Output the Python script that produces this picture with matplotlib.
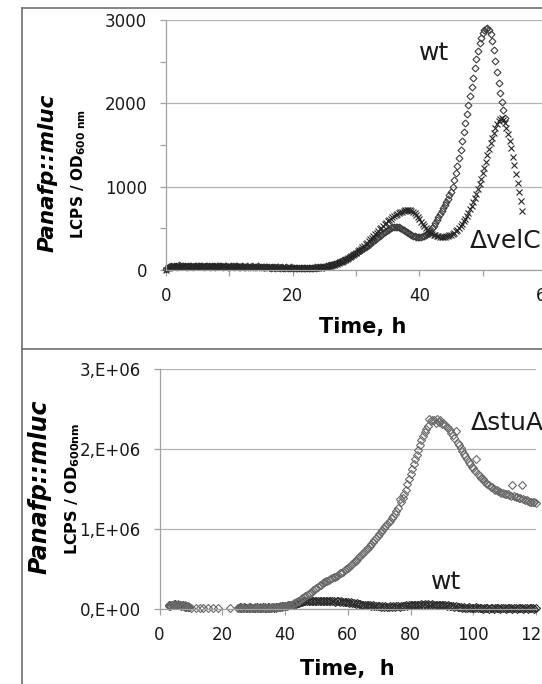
import numpy as np
import matplotlib
matplotlib.use("Agg")
import matplotlib.pyplot as plt
from matplotlib.lines import Line2D
from matplotlib.ticker import MultipleLocator, FuncFormatter

plt.rcParams['font.family'] = ['DejaVu Sans']
plt.rcParams['mathtext.fontset'] = 'dejavusans'

W, H = 542, 684
N = None

# === top panel: Panafp::mluc, wt vs ΔvelC (sampled every 0.25 h from 0 h) ===
TOP_T0, TOP_STEP = 0.0, 0.25
wt_top = [
    10, 28, 40, 45, 38, 50, 46, 42, 55, 48, 44, 52, 47, 40, 49, 53, 45, 41, 50, 46,          # 0-5 h
    43, 48, 52, 44, 39, 47, 50, 45, 42, 49, 46, 40, 44, 51, 47, 43, 38, 45, 48, 42,          # 5-10
    40, 46, 43, 37, 44, 48, 41, 39, 45, 42, 36, 43, 40, 38, 44, 41, 35, 40, 43, 37,          # 10-15
    34, 39, 36, 32, 38, 35, 30, 36, 33, 29, 35, 31, 28, 33, 30, 27, 32, 29, 26, 31,          # 15-20
    28, 25, 30, 27, 24, 29, 26, 23, 28, 25, 27, 30, 26, 29, 32, 30, 35, 33, 38, 36,          # 20-25
    42, 45, 50, 55, 62, 66, 72, 78, 86, 92, 100, 108, 118, 126, 135, 145, 155, 165, 176, 188,  # 25-30
    200, 212, 225, 238, 252, 265, 278, 292, 306, 320, 335, 350, 365, 380, 395, 410, 425, 440, 455, 470,  # 30-35
    484, 496, 506, 514, 520, 522, 520, 515, 506, 495, 482, 468, 455, 442, 430, 420, 412, 406, 402, 400,  # 35-40
    400, 402, 406, 412, 420, 432, 448, 468, 500, 530, 562, 596, 632, 668, 706, 746, 780, 815, 850, 895,  # 40-45
    940, 1000, 1080, 1160, 1250, 1345, 1445, 1550, 1655, 1760, 1870, 1980, 2090, 2200, 2310, 2420,
    2530, 2630, 2720, 2790,                                                                 # 45-50
    2840, 2875, 2895, 2900, 2880, 2830, 2750, 2640, 2510, 2380, 2250, 2130, 2020, 1920, 1820,  # 50-53.5
]
velc_top = [
    5, 22, 35, 42, 50, 44, 39, 47, 53, 41, 46, 50, 43, 38, 48, 44, 51, 46, 40, 45,           # 0-5 h
    49, 42, 46, 51, 44, 40, 47, 43, 50, 45, 41, 48, 44, 39, 46, 42, 49, 45, 40, 44,          # 5-10
    42, 38, 45, 41, 36, 43, 39, 46, 40, 37, 42, 38, 35, 41, 37, 34, 40, 36, 33, 38,          # 10-15
    35, 31, 37, 33, 30, 35, 32, 28, 34, 30, 27, 32, 29, 26, 31, 28, 25, 30, 27, 24,          # 15-20
    29, 26, 23, 28, 25, 22, 27, 24, 26, 23, 28, 25, 27, 24, 29, 26, 28, 31, 29, 33,          # 20-25
    36, 38, 41, 45, 50, 55, 61, 68, 76, 84, 93, 102, 112, 122, 133, 144, 156, 168, 181, 195,  # 25-30
    210, 225, 241, 258, 275, 293, 311, 330, 350, 370, 390, 410, 430, 450, 470, 490, 510, 530, 550, 568,  # 30-35
    585, 602, 618, 633, 647, 660, 672, 683, 693, 702, 710, 716, 720, 720, 716, 708, 696, 680, 660, 636,  # 35-40
    610, 582, 553, 525, 500, 478, 460, 445, 433, 423, 415, 409, 405, 402, 400, 400, 401, 404, 409, 416,  # 40-45
    425, 436, 450, 466, 485, 506, 530, 557, 586, 618, 652, 690, 730, 772, 818, 866, 916, 968, 1030, 1095,  # 45-50
    1160, 1230, 1300, 1375, 1450, 1520, 1590, 1650, 1705, 1750, 1790, 1815, 1825, 1800, 1760, 1700,
    1630, 1550, 1460, 1360,                                                                 # 50-55
    1255, 1150, 1045, 940, 830, 710,                                                        # 55-56.25
]

# === bottom panel: Panafp::mluc, ΔstuA vs wt (x 1E+06, every 0.5 h from 3 h) ===
BOT_T0, BOT_STEP = 3.0, 0.5
SCALE = 1e6
wt_bot = [
    0.04, 0.03, 0.05, 0.04, 0.06, 0.05, 0.04, 0.05, 0.03, 0.04, 0.02, 0.03, 0.02, 0.02,      # 3-9.5 h
    N, N, N, N, N, N, N, N, N, N,                                                           # 10-14.5
    N, N, N, N, N, N, N, N, N, N,                                                           # 15-19.5
    N, N, N, N, N, N, N, N, N, N,                                                           # 20-24.5
    0.01, 0.02, 0.01, 0.01, 0.02, 0.01, N, 0.01, 0.02, 0.01,
    0.01, 0.01, 0.02, 0.01, 0.01, 0.01, 0.02, 0.01, 0.01, 0.02,
    0.01, 0.01, 0.02, 0.01, 0.02, 0.02, 0.02, 0.02, 0.03, 0.03,                             # 25-39.5
    0.03, 0.03, 0.04, 0.04, 0.05, 0.05, 0.06, 0.06, 0.07, 0.07, 0.08, 0.08, 0.09, 0.09, 0.09, 0.10, 0.09, 0.10, 0.09, 0.09,  # 40-50
    0.09, 0.09, 0.10, 0.09, 0.09, 0.10, 0.09, 0.09, 0.09, 0.10, 0.09, 0.09, 0.08, 0.09, 0.09, 0.08, 0.09, 0.08, 0.08, 0.08,  # 50-60
    0.08, 0.07, 0.08, 0.07, 0.07, 0.06, 0.07, 0.06, 0.06, 0.05, 0.05, 0.05, 0.04, 0.04, 0.04, 0.03, 0.04, 0.03, 0.03, 0.03,  # 60-70
    0.03, 0.02, 0.03, 0.02, 0.03, 0.02, 0.02, 0.03, 0.02, 0.03, 0.02, 0.03, 0.03, 0.02, 0.03, 0.03, 0.03, 0.04, 0.03, 0.04,  # 70-80
    0.04, 0.04, 0.05, 0.04, 0.05, 0.05, 0.05, 0.06, 0.05, 0.06, 0.05, 0.06, 0.05, 0.05, 0.06, 0.05, 0.05, 0.05, 0.04, 0.05,  # 80-90
    0.04, 0.04, 0.04, 0.03, 0.04, 0.03, 0.03, 0.03, 0.02, 0.03, 0.02, 0.02, 0.02, 0.01, 0.02, 0.01, 0.01, 0.02, 0.01, 0.01,  # 90-100
    0.01, 0.01, 0.02, 0.01, 0.01, 0.01, 0.00, 0.01, 0.01, 0.01, 0.00, 0.01, 0.01, 0.00, 0.01, 0.01, 0.01, 0.00, 0.01, 0.01,  # 100-110
    0.01, 0.00, 0.01, 0.01, 0.01, 0.00, 0.01, 0.01, 0.00, 0.01, 0.01, 0.01, 0.00, 0.01, 0.01, 0.00, 0.01, 0.01, 0.01, 0.00,  # 110-120
    0.01,
]
stua_bot = [
    0.03, 0.05, 0.04, 0.06, 0.05, 0.04, 0.06, 0.05, 0.04, 0.03, 0.04, 0.02, 0.03, 0.02,      # 3-9.5 h
    0.01, N, N, 0.01, N, N, 0.01, N, 0.01, N,                                               # 10-14.5
    N, 0.01, N, N, 0.01, N, N, 0.01, N, N,                                                  # 15-19.5
    N, N, N, N, N, 0.01, N, N, N, N,                                                        # 20-24.5
    0.01, 0.01, 0.02, 0.01, 0.01, N, 0.01, 0.02, 0.01, 0.01,
    0.01, 0.02, 0.01, 0.01, 0.02, 0.01, 0.01, 0.02, 0.01, 0.01,
    0.02, 0.01, 0.02, 0.02, 0.01, 0.02, 0.02, 0.03, 0.02, 0.03,                             # 25-39.5
    0.03, 0.03, 0.04, 0.04, 0.05, 0.06, 0.07, 0.08, 0.09, 0.10, 0.12, 0.13, 0.14, 0.16, 0.17, 0.18, 0.20, 0.21, 0.23, 0.24,  # 40-50
    0.26, 0.27, 0.29, 0.30, 0.32, 0.33, 0.34, 0.35, 0.36, 0.37, 0.38, 0.39, 0.40, 0.41, 0.42, 0.44, 0.45, 0.46, 0.48, 0.49,  # 50-60
    0.51, 0.52, 0.54, 0.56, 0.58, 0.60, 0.62, 0.64, 0.66, 0.68, 0.70, 0.72, 0.74, 0.76, 0.79, 0.81, 0.83, 0.86, 0.89, 0.91,  # 60-70
    0.94, 0.96, 0.99, 1.01, 1.03, 1.06, 1.08, 1.10, 1.13, 1.16, 1.19, 1.22, 1.26, 1.37, 1.33, 1.38, 1.43, 1.49, 1.56, 1.63,  # 70-80
    1.69, 1.75, 1.81, 1.87, 1.93, 1.99, 2.05, 2.11, 2.16, 2.21, 2.25, 2.29, 2.38, 2.35, 2.37, 2.36, 2.33, 2.38, 2.34, 2.37,  # 80-90
    2.32, 2.33, 2.30, 2.28, 2.26, 2.24, 2.20, 2.17, 2.14, 2.22, 2.08, 2.05, 2.01, 1.97, 1.94, 1.91, 1.87, 1.84, 1.81, 1.78,  # 90-100
    1.76, 1.73, 1.87, 1.69, 1.66, 1.64, 1.62, 1.60, 1.58, 1.56, 1.55, 1.53, 1.52, 1.50, 1.49, 1.48, 1.47, 1.46, 1.45, 1.45,  # 100-110
    1.44, 1.43, 1.43, 1.42, 1.41, 1.55, 1.41, 1.40, 1.40, 1.39, 1.38, 1.55, 1.37, 1.36, 1.36, 1.35, 1.34, 1.34, 1.33, 1.33,  # 110-120
    1.32,
]


def series(t0, step, vals, scale=1.0):
    v = np.array([np.nan if x is None else x for x in vals], dtype=float) * scale
    return t0 + step * np.arange(len(v)), v


def fx(px):
    return px / W


def fy(py):
    return 1 - py / H


def style(ax):
    for s in ("top", "right"):
        ax.spines[s].set_visible(False)
    for s in ("left", "bottom"):
        ax.spines[s].set_color("#a0a0a0")
        ax.spines[s].set_linewidth(0.9)
    ax.grid(axis="y", color="#b4b4b4", linewidth=0.9)
    ax.set_axisbelow(True)
    ax.tick_params(which="both", direction="out", color="#a0a0a0", length=4, width=0.9,
                   labelsize=12, labelcolor="#1a1a1a")
    ax.tick_params(axis="y", pad=9.5)
    ax.tick_params(axis="x", pad=8.5)


fig = plt.figure(figsize=(W / 100, H / 100), dpi=100)

# top panel
ax1 = fig.add_axes([fx(166), fy(270), 380 / W, 250 / H])
t, v = series(TOP_T0, TOP_STEP, wt_top)
ax1.plot(t, v, ls="none", marker="D", ms=3.5, mfc="none", mec="#3c3c3c", mew=0.8, clip_on=False)
t, v = series(TOP_T0, TOP_STEP, velc_top)
ax1.plot(t, v, ls="none", marker="x", ms=4.6, mec="#262626", mew=0.8, clip_on=False)
ax1.set_xlim(0, 60)
ax1.set_ylim(0, 3000)
ax1.xaxis.set_major_locator(MultipleLocator(20))
ax1.xaxis.set_minor_locator(MultipleLocator(10))
ax1.yaxis.set_major_locator(MultipleLocator(1000))
ax1.yaxis.set_minor_locator(MultipleLocator(500))
style(ax1)
ax1.text(42.4, 2520, "wt", fontsize=18, ha="center", va="baseline", color="#1a1a1a")
ax1.text(47.9, 260, "ΔvelC", fontsize=18, ha="left", va="baseline", color="#1a1a1a", clip_on=False)

# bottom panel
ax2 = fig.add_axes([fx(159.5), fy(608.5), (536 - 159.5) / W, (608.5 - 369.3) / H])
t, v = series(BOT_T0, BOT_STEP, wt_bot, SCALE)
ax2.plot(t, v, ls="none", marker="D", ms=3.8, mfc="none", mec="#2e2e2e", mew=0.8, clip_on=False)
t, v = series(BOT_T0, BOT_STEP, stua_bot, SCALE)
ax2.plot(t, v, ls="none", marker="D", ms=3.8, mfc="none", mec="#6a6a6a", mew=0.8, clip_on=False)
ax2.set_xlim(0, 120)
ax2.set_ylim(0, 3e6)
ax2.xaxis.set_major_locator(MultipleLocator(20))
ax2.yaxis.set_major_locator(MultipleLocator(1e6))
ax2.yaxis.set_major_formatter(FuncFormatter(
    lambda val, pos: "0,E+00" if val == 0 else f"{val / SCALE:.0f},E+06"))
style(ax2)
ax2.text(99.1, 2.24e6, "ΔstuA", fontsize=18, ha="left", va="baseline", color="#1a1a1a", clip_on=False)
ax2.text(91.3, 0.25e6, "wt", fontsize=18, ha="center", va="baseline", color="#1a1a1a")

# axis titles
fig.text(fx(363), fy(333), "Time, h", fontsize=15, fontweight="bold", ha="center", va="baseline")
fig.text(fx(347), fy(675), "Time,  h", fontsize=15, fontweight="bold", ha="center", va="baseline")
fig.text(fx(48), fy(173), "Panafp::mluc", fontsize=15.5, fontweight="bold", fontstyle="italic",
         rotation=90, ha="center", va="center")
fig.text(fx(79), fy(174), r"$\mathbf{LCPS\ /\ OD_{600\ nm}}$", fontsize=11,
         rotation=90, ha="center", va="center")
fig.text(fx(40), fy(487), "Panafp::mluc", fontsize=17, fontweight="bold", fontstyle="italic",
         rotation=90, ha="center", va="center")
fig.text(fx(73), fy(489), r"$\mathbf{LCPS\ /\ OD_{600nm}}$", fontsize=11.5,
         rotation=90, ha="center", va="center")

# panel frames
frame = dict(transform=fig.transFigure, color="#6e6e6e", linewidth=1.2)
fig.add_artist(Line2D([fx(21.7), fx(21.7)], [fy(8), 0], **frame))
fig.add_artist(Line2D([fx(21.7), 1], [fy(8), fy(8)], **frame))
fig.add_artist(Line2D([fx(21.7), 1], [fy(349), fy(349)], **frame))

fig.savefig("out.png", dpi=100)
